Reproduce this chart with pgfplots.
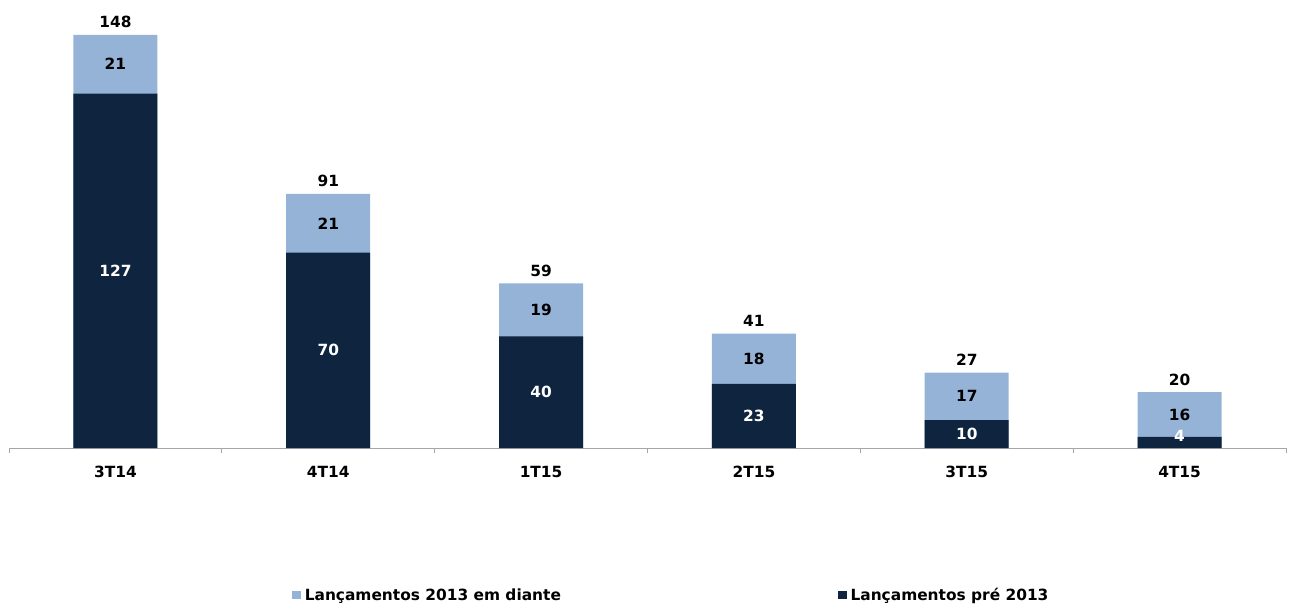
\documentclass[border=0pt]{standalone}
\usepackage{fontspec}
\setmainfont{DejaVu Sans}
\usepackage{pgfplots}
\usepackage{pgfplotstable}
\pgfplotsset{compat=1.18}
\definecolor{darkb}{HTML}{0F243E}
\definecolor{lightb}{HTML}{95B3D7}
\definecolor{axgray}{HTML}{A6A6A6}
\newcommand\lbl{\fontsize{15.4}{18}\selectfont\bfseries}
\pgfplotstableread{
x pre desde total
0 127 21 148
1 70 21 91
2 40 19 59
3 23 18 41
4 10 17 27
5 4 16 20
}\data
\begin{document}
\begin{tikzpicture}
\path[use as bounding box] (-9pt,-158pt) rectangle (1280pt,448pt);
\begin{axis}[
 scale only axis, width=1277pt, height=448pt,
 xmin=-0.5, xmax=5.5, ymin=0, ymax=160.5,
 axis x line*=bottom, axis y line=none,
 axis line style={draw=axgray, line width=0.9pt},
 xtick={0,...,5}, xticklabels={3T14,4T14,1T15,2T15,3T15,4T15},
 major tick length=0pt,
 extra x ticks={-0.5,0.5,...,5.5}, extra x tick labels={},
 extra x tick style={major tick length=4.5pt, tick style={draw=axgray, line width=0.9pt}, tick align=outside},
 xticklabel style={font=\lbl, anchor=base, yshift=-29pt},
 ytick=\empty,
 clip=false,
 legend columns=2,
 legend style={draw=none, fill=none, at={(0,0)}, anchor=west, xshift=283pt, yshift=-147pt, font=\lbl, inner sep=0pt, /tikz/every even column/.append style={column sep=275pt}},
]
\addlegendimage{legend image code/.code={\fill[lightb, draw=none] (0pt,-4.3pt) rectangle (8.6pt,4.3pt); \path[draw=none, fill=none] (0pt,-0.1pt) rectangle (10.6pt,0.1pt);}}
\addlegendentry{Lançamentos 2013 em diante}
\addlegendimage{legend image code/.code={\fill[darkb, draw=none] (0pt,-4.3pt) rectangle (8.6pt,4.3pt); \path[draw=none, fill=none] (0pt,-0.1pt) rectangle (10.6pt,0.1pt);}}
\addlegendentry{Lançamentos pré 2013}
\addplot[ybar, bar width=84pt, bar shift=0pt, fill=lightb, draw=none, forget plot] table[x=x, y expr=\thisrow{pre}+\thisrow{desde}] {\data};
\addplot[ybar, bar width=84pt, bar shift=0pt, fill=darkb, draw=none, forget plot] table[x=x, y=pre] {\data};
\addplot[draw=none, mark=none, forget plot, nodes near coords, point meta=explicit symbolic,
  nodes near coords style={font=\lbl, text=white, anchor=center}] table[x=x, y expr={max(\thisrow{pre}/2,4.3)}, meta=pre] {\data};
\addplot[draw=none, mark=none, forget plot, nodes near coords, point meta=explicit symbolic,
  nodes near coords style={font=\lbl, text=black, anchor=center}] table[x=x, y expr=\thisrow{pre}+\thisrow{desde}/2, meta=desde] {\data};
\addplot[draw=none, mark=none, forget plot, nodes near coords, point meta=explicit symbolic,
  nodes near coords style={font=\lbl, text=black, anchor=base, yshift=7pt}] table[x=x, y=total, meta=total] {\data};
\end{axis}
\end{tikzpicture}
\end{document}
